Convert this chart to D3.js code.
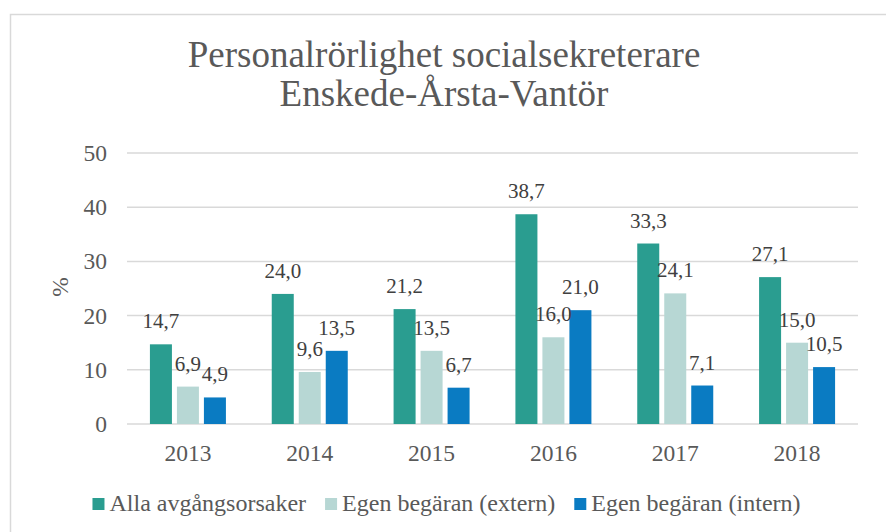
<!DOCTYPE html>
<html>
<head>
<meta charset="utf-8">
<script src="https://cdn.jsdelivr.net/npm/d3@7"></script>
<style>
  html, body { margin: 0; padding: 0; background: #fff; }
  svg { display: block; font-family: "Liberation Serif", "Times New Roman", serif; }
</style>
</head>
<body>
<div id="chart"></div>
<script>
'use strict';

// ------------------------------------
// DATA
// ------------------------------------
const years = ["2013", "2014", "2015", "2016", "2017", "2018"];
const seriesNames = ["Alla avgångsorsaker", "Egen begäran (extern)", "Egen begäran (intern)"];
const allaValues = [14.7, 24.0, 21.2, 38.7, 33.3, 27.1];
const externValues = [6.9, 9.6, 13.5, 16.0, 24.1, 15.0];
const internValues = [4.9, 13.5, 6.7, 21.0, 7.1, 10.5];
const yTicks = [0, 10, 20, 30, 40, 50];
const titleLines = ["Personalrörlighet socialsekreterare", "Enskede-Årsta-Vantör"];

// ------------------------------------
// SETUP
// ------------------------------------
const width = 886;
const height = 532;
const plot = { left: 127, right: 858, top: 153, bottom: 424 };
const textColor = "#595959";
const serif = "Liberation Serif, Times New Roman, serif";

const color = d3.scaleOrdinal()
  .domain(seriesNames)
  .range(["#2a9d90", "#b7d7d4", "#0a7bc2"]);

const seriesValues = [allaValues, externValues, internValues];
const rows = years.map((yr, i) => ({
  year: yr,
  values: seriesNames.map((s, k) => ({ series: s, value: seriesValues[k][i] }))
}));

const svg = d3.select("#chart")
  .append("svg")
  .attr("width", width)
  .attr("height", height);

// chart border
svg.append("rect")
  .attr("x", 10.5)
  .attr("y", 14.5)
  .attr("width", 890)
  .attr("height", 540)
  .attr("fill", "none")
  .attr("stroke", "#d9d9d9")
  .attr("stroke-width", 1.5);

// Scales
const x0 = d3.scaleBand().domain(years).range([plot.left, plot.right]);
const x1 = d3.scaleBand().domain(seriesNames).range([0, 76]).paddingInner(0.185);
const y = d3.scaleLinear().domain([0, 50]).range([plot.bottom, plot.top]);

// Title
svg.append("text")
  .attr("text-anchor", "middle")
  .attr("fill", textColor)
  .attr("font-size", 37)
  .selectAll("tspan")
  .data(titleLines)
  .join("tspan")
  .attr("x", 444)
  .attr("y", (d, i) => 67 + i * 39)
  .text(d => d);

// Gridlines
svg.append("g")
  .selectAll("line")
  .data(yTicks)
  .join("line")
  .attr("x1", plot.left)
  .attr("x2", plot.right)
  .attr("y1", d => y(d))
  .attr("y2", d => y(d))
  .attr("stroke", "#d9d9d9")
  .attr("stroke-width", 1.5);

// Y axis (labels only)
const yAxis = svg.append("g")
  .attr("transform", `translate(${plot.left - 20}, 0)`)
  .call(d3.axisLeft(y).tickValues(yTicks).tickSize(0).tickPadding(0));
yAxis.select(".domain").remove();
yAxis.attr("font-family", serif);
yAxis.selectAll("text")
  .attr("fill", textColor)
  .attr("font-size", 23.5);

// X axis (labels only)
const xAxis = svg.append("g")
  .attr("transform", `translate(0, ${plot.bottom})`)
  .call(d3.axisBottom(x0).tickSize(0).tickPadding(20));
xAxis.select(".domain").remove();
xAxis.attr("font-family", serif);
xAxis.selectAll("text")
  .attr("fill", textColor)
  .attr("font-size", 23.5);

// Y label
svg.append("text")
  .attr("transform", "translate(68, 287) rotate(-90)")
  .attr("text-anchor", "middle")
  .attr("fill", textColor)
  .attr("font-size", 23.5)
  .text("%");

// Bars
const groups = svg.append("g")
  .selectAll("g")
  .data(rows)
  .join("g")
  .attr("transform", d => `translate(${x0(d.year) + x0.bandwidth() / 2 - 38}, 0)`);

groups.selectAll("rect")
  .data(d => d.values)
  .join("rect")
  .attr("x", d => x1(d.series))
  .attr("y", d => y(d.value))
  .attr("width", x1.bandwidth())
  .attr("height", d => y(0) - y(d.value))
  .attr("fill", d => color(d.series));

// Value labels
const fmt = v => v.toFixed(1).replace(".", ",");
groups.selectAll("text")
  .data(d => d.values)
  .join("text")
  .attr("x", d => x1(d.series) + x1.bandwidth() / 2)
  .attr("y", d => y(d.value) - 16)
  .attr("text-anchor", "middle")
  .attr("fill", "#404040")
  .attr("font-size", 21)
  .text(d => fmt(d.value));

// Legend
const legend = svg.append("g").attr("transform", "translate(0, 511)");
const items = legend.selectAll("g")
  .data(seriesNames)
  .join("g");
items.append("rect")
  .attr("y", -13)
  .attr("width", 12)
  .attr("height", 12)
  .attr("fill", d => color(d));
items.append("text")
  .attr("x", 17)
  .attr("fill", textColor)
  .attr("font-size", 24)
  .text(d => d);

// lay out legend items centred
const widths = [];
items.each(function () {
  widths.push(17 + d3.select(this).select("text").node().getComputedTextLength());
});
const gap = 19;
const total = d3.sum(widths) + gap * (widths.length - 1);
let cx = 446.5 - total / 2;
items.attr("transform", (d, i) => {
  const t = `translate(${cx}, 0)`;
  cx += widths[i] + gap;
  return t;
});
</script>
</body>
</html>
